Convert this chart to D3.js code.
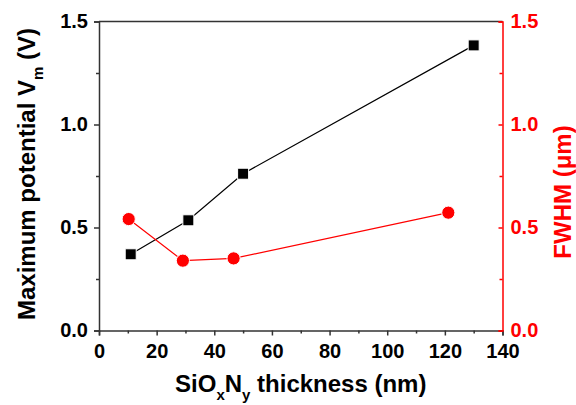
<!DOCTYPE html>
<html><head><meta charset="utf-8">
<script src="https://cdn.jsdelivr.net/npm/d3@7"></script>
<style>
body{margin:0;background:#fff;}
text{font-family:"Liberation Sans",Arial,sans-serif;font-weight:bold;}
</style></head>
<body><svg id="c" width="576" height="405"></svg>
<script>
// Data
const thicknessV = [11, 31, 50, 130];
const potentialV = [0.370, 0.535, 0.761, 1.384];
const thicknessF = [10.3, 29.1, 46.7, 121.2];
const fwhm = [0.541, 0.339, 0.350, 0.572];
const xTicks = [0, 20, 40, 60, 80, 100, 120, 140];
const yTicks = [0, 0.5, 1.0, 1.5];

const svg = d3.select("#c");
const L = 99, R = 502.5, T = 21.5, B = 330.5;
const x = d3.scaleLinear().domain([0, 140]).range([L, R]);
const yL = d3.scaleLinear().domain([0, 1.5]).range([B, T]);
const yR = d3.scaleLinear().domain([0, 1.5]).range([B, T]);
const axisCol = "#333";
const tickFS = 20, titleFS = 24;

// top frame
svg.append("line").attr("x1", L).attr("x2", R).attr("y1", T).attr("y2", T)
  .attr("stroke", axisCol).attr("stroke-width", 1.5);

// x axis
const gx = svg.append("g").attr("transform", `translate(0,${B})`);
gx.call(d3.axisBottom(x).tickValues(d3.range(10, 140, 20)).tickSize(3).tickFormat(""));
gx.select("path.domain").remove();
gx.selectAll(".tick line").attr("stroke", axisCol).attr("stroke-width", 1.5);
const gx2 = svg.append("g").attr("transform", `translate(0,${B})`);
gx2.call(d3.axisBottom(x).tickValues(xTicks).tickSize(5).tickPadding(8).tickFormat(d3.format("d")));
gx2.selectAll("path.domain").attr("stroke", axisCol).attr("stroke-width", 1.5);
gx2.selectAll(".tick line").attr("stroke", axisCol).attr("stroke-width", 1.5);
gx2.selectAll("text").attr("font-size", tickFS).attr("fill", "#000");

// left axis
const gy0 = svg.append("g").attr("transform", `translate(${L},0)`);
gy0.call(d3.axisLeft(yL).tickValues([0.25, 0.75, 1.25]).tickSize(3).tickFormat(""));
gy0.select("path.domain").remove();
gy0.selectAll(".tick line").attr("stroke", axisCol).attr("stroke-width", 1.5);
const gy = svg.append("g").attr("transform", `translate(${L},0)`);
gy.call(d3.axisLeft(yL).tickValues(yTicks).tickSize(5).tickPadding(6).tickFormat(d3.format(".1f")));
gy.selectAll("path.domain").attr("stroke", axisCol).attr("stroke-width", 1.5);
gy.selectAll(".tick line").attr("stroke", axisCol).attr("stroke-width", 1.5);
gy.selectAll("text").attr("font-size", tickFS).attr("fill", "#000");

// right axis (red)
const gr0 = svg.append("g").attr("transform", `translate(${R},0)`);
gr0.call(d3.axisLeft(yR).tickValues([0.25, 0.75, 1.25]).tickSize(3).tickFormat(""));
gr0.select("path.domain").remove();
gr0.selectAll(".tick line").attr("stroke", "red").attr("stroke-width", 1.5);
const gr = svg.append("g").attr("transform", `translate(${R},0)`);
gr.call(d3.axisRight(yR).tickValues(yTicks).tickSize(-4).tickPadding(8).tickFormat(d3.format(".1f")));
gr.selectAll("path.domain").attr("stroke", "red").attr("stroke-width", 1.5);
gr.selectAll(".tick line").attr("stroke", "red").attr("stroke-width", 1.5);
gr.selectAll("text").attr("font-size", tickFS).attr("fill", "red");

// lines
const lineV = d3.line().x((d, i) => x(thicknessV[i])).y(d => yL(d));
svg.append("path").attr("d", lineV(potentialV)).attr("fill", "none").attr("stroke", "#000").attr("stroke-width", 1.2);
const lineF = d3.line().x((d, i) => x(thicknessF[i])).y(d => yR(d));
svg.append("path").attr("d", lineF(fwhm)).attr("fill", "none").attr("stroke", "red").attr("stroke-width", 1.2);

// markers
const s = 11;
svg.selectAll("rect.m").data(potentialV).enter().append("rect").attr("class", "m")
  .attr("x", (d, i) => x(thicknessV[i]) - s / 2).attr("y", d => yL(d) - s / 2)
  .attr("width", s).attr("height", s).attr("fill", "#000").attr("stroke", "#fff").attr("stroke-width", 1);
svg.selectAll("circle.m").data(fwhm).enter().append("circle").attr("class", "m")
  .attr("cx", (d, i) => x(thicknessF[i])).attr("cy", d => yR(d)).attr("r", 6.6)
  .attr("fill", "red").attr("stroke", "#fff").attr("stroke-width", 1);

// axis titles
const xt = svg.append("text").attr("x", (L + R) / 2).attr("y", 392).attr("text-anchor", "middle")
  .attr("font-size", titleFS).attr("fill", "#000");
xt.append("tspan").text("SiO");
xt.append("tspan").attr("font-size", 15).attr("dy", 8).text("x");
xt.append("tspan").attr("dy", -8).text("N");
xt.append("tspan").attr("font-size", 15).attr("dy", 8).text("y");
xt.append("tspan").attr("dy", -8).text(" thickness (nm)");

const yt = svg.append("text").attr("transform", `translate(35,${(T + B) / 2 - 2}) rotate(-90)`)
  .attr("text-anchor", "middle").attr("font-size", titleFS).attr("fill", "#000");
yt.append("tspan").text("Maximum potential V");
yt.append("tspan").attr("font-size", 15).attr("dy", 8).text("m");
yt.append("tspan").attr("dy", -8).text(" (V)");

svg.append("text").attr("transform", `translate(571,192) rotate(-90)`)
  .attr("text-anchor", "middle").attr("font-size", titleFS).attr("fill", "red").text("FWHM (μm)");
</script></body></html>
